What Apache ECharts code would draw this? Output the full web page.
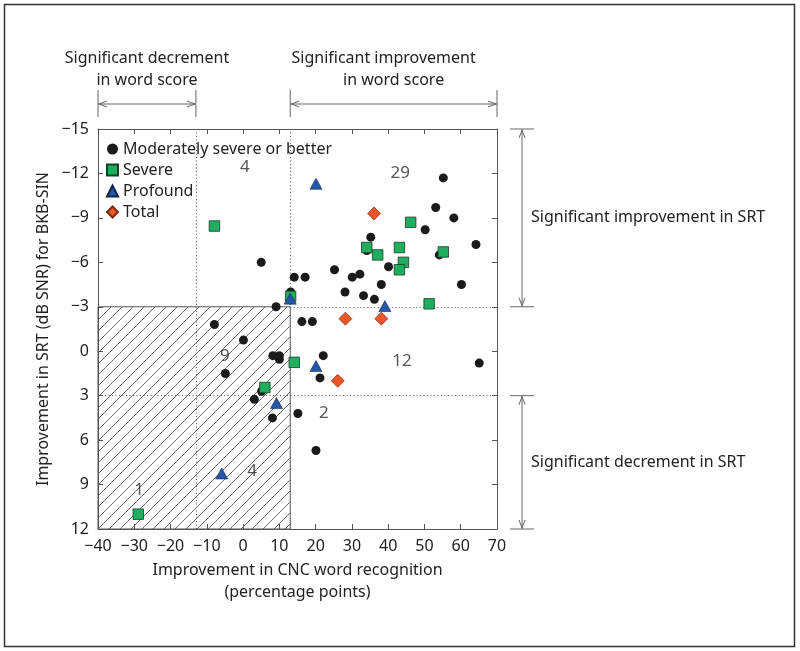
<!DOCTYPE html>
<html><head><meta charset="utf-8">
<script src="https://cdn.jsdelivr.net/npm/echarts@6/dist/echarts.min.js"></script>
<style>html,body{margin:0;padding:0;background:#fff}#c{width:800px;height:651px}</style>
</head><body><div id="c"></div>
<script>
// ---- data ----
const moderate = [
  [55.2,-11.7],[53.1,-9.7],[58.1,-9.0],[50.2,-8.2],[35.2,-7.7],[34.1,-6.8],[64.2,-7.2],
  [54.1,-6.5],[40.1,-5.7],[25.2,-5.5],[30.1,-5.0],[32.2,-5.2],[17.1,-5.0],[14.1,-5.0],
  [38.1,-4.5],[60.2,-4.5],[28.1,-4.0],[33.2,-3.75],[36.2,-3.5],[13.1,-4.0],[5.0,-6.0],
  [9.1,-3.0],[-7.9,-1.8],[16.2,-2.0],[19.1,-2.0],[0.1,-0.75],[8.2,0.3],[10.0,0.3],
  [10.0,0.55],[22.1,0.3],[21.2,1.8],[-4.9,1.5],[5.1,2.7],[3.1,3.25],[8.1,4.5],
  [15.1,4.2],[20.1,6.7],[65.1,0.8]
];
const severe = [
  [46.2,-8.7],[34.1,-7.0],[43.1,-7.0],[37.1,-6.5],[55.2,-6.7],[44.2,-6.0],[43.1,-5.5],
  [51.3,-3.2],[13.1,-3.7],[14.1,0.75],[6.0,2.45],[-28.9,11.0],[-7.9,-8.45]
];
const profound = [
  [20.1,-11.3],[39.1,-3.05],[13.0,-3.55],[20.1,1.0],[9.2,3.5],[-5.9,8.25]
];
const total = [
  [36.1,-9.3],[28.2,-2.2],[38.1,-2.2],[26.1,2.0]
];
const counts = [
  [0.5,-12.4,'4'],[43.3,-12.0,'29'],[-5,0.3,'9'],[43.8,0.7,'12'],
  [22.3,4.2,'2'],[2.5,8.1,'4'],[-28.7,9.4,'1']
];
const xRange = [-40, 70, 10];
const yRange = [-15, 12, 3];
const wordDecrement = [-40, -13];
const wordImprove = [13, 70];
const srtImprove = [-15, -3];
const srtDecrement = [3, 12];
const hatchBox = [[-40,-3],[13,12]];

const FONT = 'Noto Sans';
const FS = 16;
const minus = v => (v < 0 ? '\u2212' + Math.abs(v) : '' + v);

// hatch pattern
const pc = document.createElement('canvas');
const S = 11; pc.width = S; pc.height = S;
const g = pc.getContext('2d');
g.strokeStyle = '#444'; g.lineWidth = 0.8;
g.beginPath();
g.moveTo(0, S); g.lineTo(S, 0);
g.moveTo(-1, 1); g.lineTo(1, -1);
g.moveTo(S - 1, S + 1); g.lineTo(S + 1, S - 1);
g.stroke();

const chart = echarts.init(document.getElementById('c'));
const axisCommon = {
  type: 'value',
  axisLine: { show: true, onZero: false, lineStyle: { color: '#555', width: 1 } },
  axisTick: { show: true, inside: true, length: 5, lineStyle: { color: '#555' } },
  splitLine: { show: false }
};
const option = {
  animation: false,
  backgroundColor: '#fff',
  textStyle: { fontFamily: FONT },
  grid: { left: 98, top: 129, width: 399, height: 400 },
  legend: {
    data: ['Moderately severe or better', 'Severe', 'Profound', 'Total'],
    orient: 'vertical', left: 106, top: 141, padding: 0, itemWidth: 11, itemHeight: 11, itemGap: 5,
    textStyle: { fontSize: FS, color: '#222', fontFamily: FONT }
  },
  xAxis: [
    Object.assign({}, axisCommon, {
      min: xRange[0], max: xRange[1], interval: xRange[2], position: 'bottom',
      axisLabel: { color: '#222', fontSize: FS, margin: 9, formatter: minus, fontFamily: FONT },
      name: 'Improvement in CNC word recognition\n(percentage points)',
      nameLocation: 'middle', nameGap: 30,
      nameTextStyle: { fontSize: FS, color: '#222', lineHeight: 22, fontFamily: FONT }
    }),
    Object.assign({}, axisCommon, {
      min: xRange[0], max: xRange[1], interval: xRange[2], position: 'top',
      axisLabel: { show: false }
    })
  ],
  yAxis: [
    Object.assign({}, axisCommon, {
      min: yRange[0], max: yRange[1], interval: yRange[2], inverse: true, position: 'left',
      axisLabel: { color: '#222', fontSize: FS, margin: 9, formatter: minus, fontFamily: FONT },
      name: 'Improvement in SRT (dB SNR) for BKB-SIN',
      nameLocation: 'middle', nameGap: 47, nameRotate: 90,
      nameTextStyle: { fontSize: FS, color: '#222', fontFamily: FONT }
    }),
    Object.assign({}, axisCommon, {
      min: yRange[0], max: yRange[1], interval: yRange[2], inverse: true, position: 'right',
      axisLabel: { show: false }
    })
  ],
  series: [
    {
      name: 'Moderately severe or better', type: 'scatter', data: moderate,
      symbol: 'circle', symbolSize: 9, z: 3,
      itemStyle: { color: '#1a1a1a', opacity: 1 },
      markArea: {
        silent: true, z: 1,
        itemStyle: { color: { image: pc, repeat: 'repeat' }, borderColor: '#555', borderWidth: 1, opacity: 1 },
        data: [[{ coord: hatchBox[0] }, { coord: hatchBox[1] }]]
      },
      markLine: {
        silent: true, z: 1, symbol: ['none', 'none'], label: { show: false },
        lineStyle: { type: [1, 2.5], color: '#555', width: 1 },
        data: [
          [{ coord: [13, -3] }, { coord: [70, -3] }],
          [{ coord: [-40, 3] }, { coord: [70, 3] }],
          [{ coord: [-13, -15] }, { coord: [-13, 12] }],
          [{ coord: [13, -15] }, { coord: [13, -3] }]
        ]
      }
    },
    {
      name: 'Severe', type: 'scatter', data: severe, symbol: 'rect', symbolSize: 10.5, z: 4,
      itemStyle: { color: '#1fae5e', borderColor: '#1b3a28', borderWidth: 0.8, opacity: 1 }
    },
    {
      name: 'Profound', type: 'scatter', data: profound, symbol: 'triangle', symbolSize: [12, 11], z: 5,
      itemStyle: { color: '#2457a8', borderColor: '#14264d', borderWidth: 0.6, opacity: 1 }
    },
    {
      name: 'Total', type: 'scatter', data: total, symbol: 'diamond', symbolSize: 13, z: 6,
      itemStyle: { color: '#ee5528', borderColor: '#7a2a12', borderWidth: 0.7, opacity: 1 }
    },
    {
      name: 'counts', type: 'scatter', data: counts, symbolSize: 0, silent: true, z: 7,
      label: {
        show: true, position: 'inside', formatter: p => p.data[2],
        fontSize: 17, color: '#2a2a2a', fontFamily: FONT
      }
    }
  ]
};
chart.setOption(option);

// annotations outside the plot, placed through the axis scales
const P = (x, y) => chart.convertToPixel({ gridIndex: 0 }, [x, y]);
const col = '#666';
const els = [];
function hArrow(x0, x1, y, b0, b1) {
  els.push({ type: 'line', shape: { x1: x0, y1: y, x2: x1, y2: y }, style: { stroke: col, lineWidth: 1 } });
  els.push({ type: 'line', shape: { x1: x0, y1: b0, x2: x0, y2: b1 }, style: { stroke: col, lineWidth: 1 } });
  els.push({ type: 'line', shape: { x1: x1, y1: b0, x2: x1, y2: b1 }, style: { stroke: col, lineWidth: 1 } });
  els.push({ type: 'polyline', shape: { points: [[x0 + 9, y - 3], [x0 + 1, y], [x0 + 9, y + 3]] }, style: { stroke: col, fill: null, lineWidth: 1 } });
  els.push({ type: 'polyline', shape: { points: [[x1 - 9, y - 3], [x1 - 1, y], [x1 - 9, y + 3]] }, style: { stroke: col, fill: null, lineWidth: 1 } });
}
function vArrow(x, y0, y1, b0, b1) {
  els.push({ type: 'line', shape: { x1: x, y1: y0, x2: x, y2: y1 }, style: { stroke: col, lineWidth: 1 } });
  els.push({ type: 'line', shape: { x1: b0, y1: y0, x2: b1, y2: y0 }, style: { stroke: col, lineWidth: 1 } });
  els.push({ type: 'line', shape: { x1: b0, y1: y1, x2: b1, y2: y1 }, style: { stroke: col, lineWidth: 1 } });
  els.push({ type: 'polyline', shape: { points: [[x - 3, y0 + 9], [x, y0 + 1], [x + 3, y0 + 9]] }, style: { stroke: col, fill: null, lineWidth: 1 } });
  els.push({ type: 'polyline', shape: { points: [[x - 3, y1 - 9], [x, y1 - 1], [x + 3, y1 - 9]] }, style: { stroke: col, fill: null, lineWidth: 1 } });
}
function txt(x, y, s, align) {
  els.push({ type: 'text', x: x, y: y, style: { text: s, fontSize: FS, fontFamily: FONT, fill: '#222', align: align || 'center', verticalAlign: 'middle' } });
}
const xd0 = P(wordDecrement[0], 0)[0], xd1 = P(wordDecrement[1], 0)[0];
const xi0 = P(wordImprove[0], 0)[0], xi1 = P(wordImprove[1], 0)[0];
hArrow(xd0, xd1, 104, 90, 117);
hArrow(xi0, xi1, 104, 90, 117);
txt((xd0 + xd1) / 2, 58, 'Significant decrement');
txt((xd0 + xd1) / 2, 80, 'in word score');
txt((xi0 + xi1) / 2 - 10, 58, 'Significant improvement');
txt((xi0 + xi1) / 2, 80, 'in word score');
const ys0 = P(0, srtImprove[0])[1], ys1 = P(0, srtImprove[1])[1];
const yd0 = P(0, srtDecrement[0])[1], yd1 = P(0, srtDecrement[1])[1];
vArrow(522, ys0, ys1, 510, 534);
vArrow(522, yd0, yd1, 510, 534);
txt(531, (ys0 + ys1) / 2, 'Significant improvement in SRT', 'left');
txt(531, (yd0 + yd1) / 2, 'Significant decrement in SRT', 'left');
els.push({ type: 'rect', shape: { x: 4.5, y: 4.5, width: 790, height: 642 }, style: { fill: null, stroke: '#333', lineWidth: 1.5 } });
chart.setOption({ graphic: { elements: els } });
</script>
</body></html>
